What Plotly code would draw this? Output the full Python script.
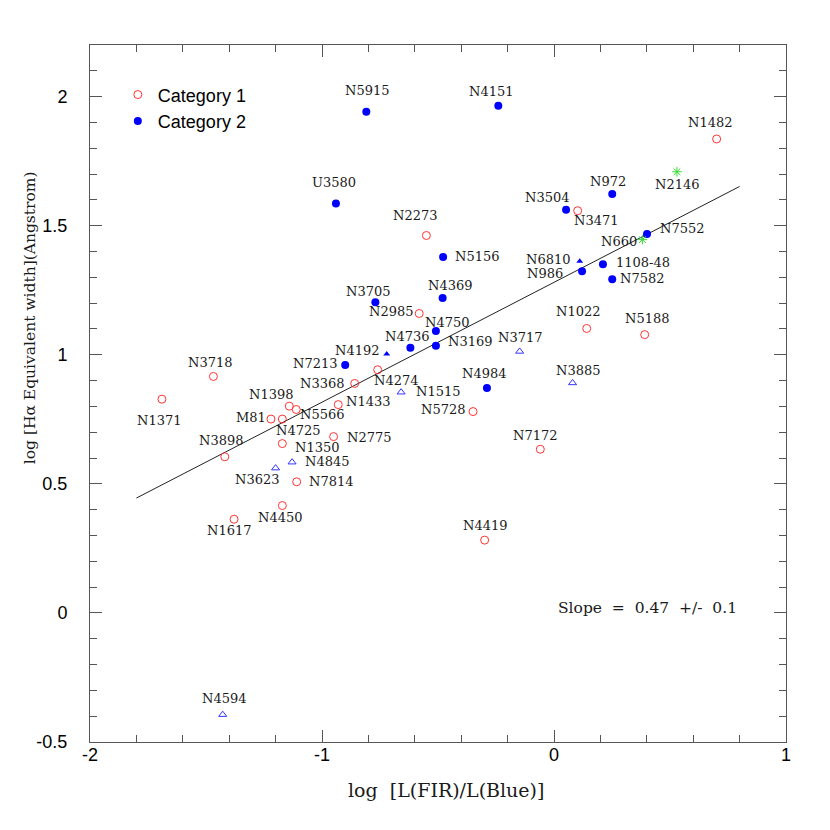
import plotly.graph_objects as go

# --- data ---
cat1_names = ["N1482", "N3471", "N2273", "N2985", "N3718", "N1371", "N4274", "N3368",
              "N1398", "N5566", "M81", "N4725", "N1433", "N2775", "N1350", "N3898",
              "N7814", "N4450", "N1617", "N1022", "N5188", "N5728", "N7172", "N4419"]
cat1_x = [0.701, 0.102, -0.550, -0.581, -1.468, -1.690, -0.760, -0.859,
          -1.141, -1.111, -1.220, -1.171, -0.930, -0.950, -1.171, -1.419,
          -1.109, -1.171, -1.379, 0.141, 0.391, -0.349, -0.059, -0.299]
cat1_y = [1.836, 1.558, 1.462, 1.160, 0.916, 0.828, 0.942, 0.889,
          0.801, 0.788, 0.751, 0.751, 0.807, 0.683, 0.656, 0.605,
          0.508, 0.416, 0.363, 1.102, 1.078, 0.780, 0.634, 0.282]

cat2_names = ["N5915", "U3580", "N4151", "N972", "N3504", "N7552", "N5156", "1108-48",
              "N986", "N7582", "N4369", "N3705", "N4750", "N4736", "N3169", "N7213", "N4984"]
cat2_x = [-0.809, -0.940, -0.240, 0.251, 0.052, 0.401, -0.478, 0.211,
          0.121, 0.251, -0.480, -0.770, -0.509, -0.619, -0.509, -0.900, -0.289]
cat2_y = [1.941, 1.586, 1.965, 1.623, 1.562, 1.468, 1.379, 1.351,
          1.324, 1.293, 1.220, 1.203, 1.092, 1.027, 1.035, 0.960, 0.871]

tri_names = ["N6810", "N4192"]
tri_x = [0.111, -0.721]
tri_y = [1.362, 1.003]

otri_names = ["N1515", "N4845", "N3623", "N3717", "N3885", "N4594"]
otri_x = [-0.659, -1.129, -1.200, -0.148, 0.080, -1.428]
otri_y = [0.855, 0.584, 0.561, 1.013, 0.891, -0.394]

star_names = ["N2146", "N660"]
star_x = [0.530, 0.381]
star_y = [1.709, 1.446]

fit_x = [-1.8, 0.8]
fit_y = [0.445, 1.652]

x_ticks = [-2, -1, 0, 1]
x_ticktext = ["-2", "-1", "0", "1"]
y_ticks = [-0.5, 0, 0.5, 1, 1.5, 2]
y_ticktext = ["-0.5", "0", "0.5", "1", "1.5", "2"]

# label offsets in pixels (dx right, dy down) from each point
label_offsets = {
    "N1482": (-7, -16), "N3471": (18, 10), "N2273": (-11, -20), "N2985": (-28, -2),
    "N3718": (-3, -14), "N1371": (-3, 21), "N4274": (18, 11), "N3368": (-33, 0),
    "N1398": (-18, -12), "N5566": (26, 5), "M81": (-20, -2), "N4725": (16, 11),
    "N1433": (30, -3), "N2775": (35, 1), "N1350": (35, 4), "N3898": (-4, -16),
    "N7814": (34, 0), "N4450": (-2, 12), "N1617": (-5, 11), "N1022": (-9, -17),
    "N5188": (2, -16), "N5728": (-30, -2), "N7172": (-5, -14), "N4419": (0, -15),
    "N5915": (1, -21), "U3580": (-2, -21), "N4151": (-7, -14), "N972": (-4, -12),
    "N3504": (-19, -12), "N7552": (35, -5), "N5156": (34, 0), "1108-48": (40, -2),
    "N986": (-37, 2), "N7582": (30, -1), "N4369": (7, -12), "N3705": (-7, -11),
    "N4750": (11, -9), "N4736": (-3, -11), "N3169": (34, -4), "N7213": (-30, -2),
    "N4984": (-3, -15), "N6810": (-32, -2), "N4192": (-30, -4), "N1515": (37, -1),
    "N4845": (35, -1), "N3623": (-19, 11), "N3717": (0, -14), "N3885": (5, -12),
    "N4594": (1, -16), "N2146": (0, 13), "N660": (-23, 2),
}

SERIF = "DejaVu Serif"
SANS = "Liberation Sans, Arial, sans-serif"
NB = "\u00a0"

fig = go.Figure()

fig.add_trace(go.Scatter(
    x=fit_x, y=fit_y, mode="lines", line=dict(color="#222222", width=1),
    showlegend=False, hoverinfo="skip",
))
fig.add_trace(go.Scatter(
    x=cat1_x, y=cat1_y, mode="markers", name="Category 1", text=cat1_names,
    marker=dict(symbol="circle-open", size=8, color="#ff3333", line=dict(width=1)),
))
fig.add_trace(go.Scatter(
    x=cat2_x, y=cat2_y, mode="markers", name="Category 2", text=cat2_names,
    marker=dict(symbol="circle", size=8, color="#0000ff"),
))
fig.add_trace(go.Scatter(
    x=tri_x, y=tri_y, mode="markers", text=tri_names, showlegend=False,
    marker=dict(symbol="triangle-up", size=6, color="#0000ff"),
))
fig.add_trace(go.Scatter(
    x=otri_x, y=otri_y, mode="markers", text=otri_names, showlegend=False,
    marker=dict(symbol="triangle-up-open", size=7, color="#3333ff", line=dict(width=1)),
))
fig.add_trace(go.Scatter(
    x=star_x, y=star_y, mode="markers", text=star_names, showlegend=False,
    marker=dict(symbol="asterisk-open", size=8, color="#33dd33", line=dict(width=1, color="#33dd33")),
))

# point labels
for names, xs, ys in [(cat1_names, cat1_x, cat1_y), (cat2_names, cat2_x, cat2_y),
                      (tri_names, tri_x, tri_y), (otri_names, otri_x, otri_y),
                      (star_names, star_x, star_y)]:
    for nm, xv, yv in zip(names, xs, ys):
        dx, dy = label_offsets[nm]
        fig.add_annotation(
            x=xv, y=yv, text=nm, showarrow=False, xshift=dx, yshift=-dy,
            font=dict(family=SERIF, size=13, color="#1a1a1a"),
        )

fig.add_annotation(
    x=0.402, y=0.018,
    text=f"Slope{NB}{NB}={NB}{NB}0.47{NB}{NB}+/-{NB}{NB}0.1", showarrow=False,
    font=dict(family=SERIF, size=15.5, color="#1a1a1a"),
)

# axis titles
fig.add_annotation(
    xref="paper", yref="paper", x=0.511, y=-0.069, yanchor="middle",
    text=f"log{NB}{NB}[L(FIR)/L(Blue)]", showarrow=False,
    font=dict(family=SERIF, size=19, color="#1a1a1a"),
)
fig.add_annotation(
    xref="paper", yref="paper", x=-0.102, y=0.608, textangle=-90,
    text="log [H\u03b1 Equivalent width](Angstrom)", showarrow=False,
    font=dict(family=SERIF, size=15.5, color="#1a1a1a"),
)

axis_common = dict(
    showline=True, linecolor="#555555", linewidth=1, mirror="allticks",
    ticks="inside", ticklen=12, tickcolor="#555555", tickwidth=1,
    showgrid=False, zeroline=False,
    tickfont=dict(family=SANS, size=18, color="#000000"),
)

fig.update_xaxes(
    range=[-2, 1], tickmode="array", tickvals=x_ticks, ticktext=x_ticktext,
    minor=dict(ticks="inside", ticklen=7, tick0=-2, dtick=0.2, tickcolor="#555555"),
    ticklabelstandoff=-4,
    **axis_common,
)
fig.update_yaxes(
    range=[-0.5, 2.2], tickmode="array", tickvals=y_ticks, ticktext=y_ticktext,
    minor=dict(ticks="inside", ticklen=7, tick0=0, dtick=0.1, tickcolor="#555555"),
    ticklabelstandoff=18,
    **axis_common,
)

# the page body adds an 8px margin, so the figure is 16px smaller than the window
fig.update_layout(
    width=814, height=814,
    margin=dict(l=82, r=36, t=37, b=80),
    paper_bgcolor="#ffffff", plot_bgcolor="#ffffff",
    legend=dict(
        x=0.04, y=0.955, xanchor="left", yanchor="top",
        bgcolor="rgba(0,0,0,0)", font=dict(family=SANS, size=18, color="#000000"),
        itemsizing="trace",
    ),
)

fig.write_html("out.html")
